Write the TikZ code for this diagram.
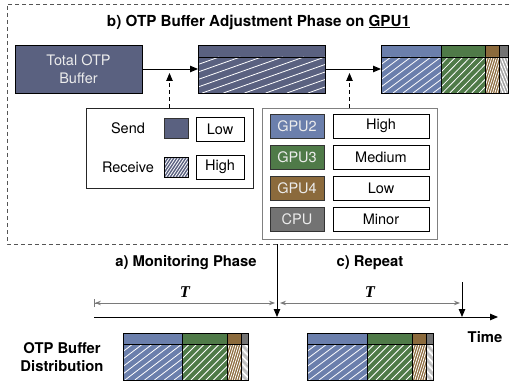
\documentclass[tikz,border=0pt]{standalone}
\usepackage{fontspec}
\setmainfont{TeX Gyre Heros}
\newfontfamily\serifbi{Liberation Serif}
\usetikzlibrary{arrows.meta}

\definecolor{bufdark}{HTML}{5A6180}
\definecolor{gputwo}{HTML}{6B7FAC}
\definecolor{gputhree}{HTML}{4F7A48}
\definecolor{gpufour}{HTML}{8B6A3C}
\definecolor{cpugray}{HTML}{737373}
\definecolor{framegray}{HTML}{555555}
\definecolor{dimgray}{HTML}{7A7A7A}
\definecolor{swtext}{HTML}{ECECEC}

% hatch density: lines per width, and horizontal run of one line as a share of the width
\def\hatchdiv{6}
\def\hatchrun{0.8}

% solid segment: name, colour, x0, y0, x1, y1
\newcommand\solidseg[6]{%
  \pgfmathsetmacro\segw{#5-#3}%
  \pgfmathsetmacro\segh{#6-#4}%
  \node[segbox, fill=#2, minimum width=\segw pt, minimum height=\segh pt]
    (#1) at ({(#3+#5)/2},{(#4+#6)/2}) {};
  \draw[segline] (#1.south west) rectangle (#1.north east);
}
% hatched segment: name, colour, x0, y0, x1, y1
\newcommand\hatchseg[6]{%
  \pgfmathsetmacro\segw{#5-#3}%
  \pgfmathsetmacro\segh{#6-#4}%
  \pgfmathsetmacro\hs{\segw/\hatchdiv}%
  \pgfmathsetmacro\hr{\hatchrun*\segw}%
  \node[segbox, fill=#2, minimum width=\segw pt, minimum height=\segh pt]
    (#1) at ({(#3+#5)/2},{(#4+#6)/2}) {};
  \begin{scope}
    \clip (#1.south west) rectangle (#1.north east);
    \foreach \k in {0,...,16} {
      \draw[hatchline] ({#3-\hr+\k*\hs},#6) -- ({#3+\k*\hs},#4);
    }
  \end{scope}
  \draw[segline] (#1.south west) rectangle (#1.north east);
}
% split buffer: prefix, four segment borders x0..x4, ytop, yband, ybottom
\newcommand\otpbuf[9]{%
  \solidseg{#1a}{gputwo}{#2}{#7}{#3}{#8}
  \solidseg{#1b}{gputhree}{#3}{#7}{#4}{#8}
  \solidseg{#1c}{gpufour}{#4}{#7}{#5}{#8}
  \solidseg{#1d}{cpugray}{#5}{#7}{#6}{#8}
  \hatchseg{#1e}{gputwo}{#2}{#8}{#3}{#9}
  \hatchseg{#1f}{gputhree}{#3}{#8}{#4}{#9}
  \hatchseg{#1g}{gpufour}{#4}{#8}{#5}{#9}
  \hatchseg{#1h}{cpugray}{#5}{#8}{#6}{#9}
}

\begin{document}
\begin{tikzpicture}[x=1pt,y=-1pt,
  every node/.style={font=\fontsize{14.5}{17.5}\selectfont},
  boldlbl/.style={font=\bfseries\fontsize{14.8}{17.5}\selectfont},
  segbox/.style={inner sep=0pt, outer sep=0pt, draw=none},
  segline/.style={line width=0.9pt, draw=black},
  hatchline/.style={draw=white, line width=0.8pt},
  flow/.style={line width=0.9pt, -{Triangle[length=8pt,width=6.5pt]}},
  hint/.style={line width=0.9pt, dash pattern=on 4pt off 3pt, -{Triangle[length=8pt,width=6.5pt]}},
  dimline/.style={draw=dimgray, line width=0.9pt},
  legframe/.style={draw=#1, line width=0.9pt, fill=white, inner sep=0pt},
  valbox/.style={draw=black, line width=0.8pt, fill=white, inner sep=0pt, minimum height=24pt},
  swatch/.style={draw=black!80, line width=0.8pt, fill=#1, inner sep=0pt, text=swtext,
                 minimum width=54pt, minimum height=24pt},
]
\useasboundingbox (0,0) rectangle (511,385);

% phase b frame
\draw[framegray, line width=0.9pt, dash pattern=on 4pt off 3pt]
  (516,4) -- (7,4) -- (7,244) -- (516,244);
\node[boldlbl, font=\bfseries\fontsize{15.2}{18}\selectfont] (title) at (258.5,22)
  {b) OTP Buffer Adjustment Phase on \underline{GPU1}};

% total buffer
\node[fill=bufdark, draw=black, line width=0.9pt, minimum width=127pt, minimum height=48pt,
      inner sep=0pt, text=swtext, align=center] (total) at (78.5,69) {Total OTP\\Buffer};

% send / receive split
\solidseg{midtop}{bufdark}{198}{45}{325}{57}
\hatchseg{midlow}{bufdark}{198}{57}{325}{93}

% per-device split
\otpbuf{rb}{381}{441}{485}{499}{508}{45}{57}{93}

\draw[flow] (total.east) -- (total.east -| midlow.west);
\draw[flow] (total.east -| midlow.east) -- (total.east -| rbe.west);

% legend: send / receive
\node[legframe=black!85, minimum width=167pt, minimum height=80pt] (legA) at (169.5,148) {};
\node (sendlbl) at (128,128) {Send};
\node[draw=black!80, line width=0.8pt, fill=bufdark, minimum width=24pt, minimum height=20pt, inner sep=0pt]
  (sendsw) at (176,128) {};
\node[valbox, minimum width=48pt] (sendval) at (220,129.5) {Low};
\node (recvlbl) at (128,167) {Receive};
\begingroup
\def\hatchdiv{8}\def\hatchrun{0.55}
\hatchseg{recvsw}{bufdark}{164}{157}{188}{177}
\endgroup
\node[valbox, minimum width=48pt] (recvval) at (220,167) {High};

% legend: peer devices
\node[legframe=black!50, minimum width=175pt, minimum height=131pt] (legB) at (349.5,173.5) {};
\node[swatch=gputwo]   (swA) at (297,126) {GPU2};
\node[swatch=gputhree] (swB) at (297,157) {GPU3};
\node[swatch=gpufour]  (swC) at (297,188) {GPU4};
\node[swatch=cpugray]  (swD) at (297,219) {CPU};
\node[valbox, minimum width=96pt] (valA) at (381,126) {High};
\node[valbox, minimum width=96pt] (valB) at (381,157) {Medium};
\node[valbox, minimum width=96pt] (valC) at (381,188) {Low};
\node[valbox, minimum width=96pt] (valD) at (381,219) {Minor};

\coordinate (tipA) at (169.5,73);
\coordinate (tipB) at (349.5,73);
\draw[hint] (legA.north) -- (tipA);
\draw[hint] (legB.north) -- (tipB);

% timeline
\coordinate (tl0) at (94,317);
\coordinate (tl1) at (498,317);
\coordinate (drop) at (277,244);
\coordinate (rep) at (462,282);
\draw[flow] (tl0) -- (tl1);
\draw[flow] (drop) -- (drop |- tl0);
\draw[flow] (rep) -- (rep |- tl0);

\node[boldlbl] (phaseA) at (186,263) {a) Monitoring Phase};
\node[boldlbl] (phaseC) at (370,263) {c) Repeat};
\node[font=\serifbi\bfseries\itshape\fontsize{16.5}{18}\selectfont] (perA) at (185,292) {T};
\node[font=\serifbi\bfseries\itshape\fontsize{16.5}{18}\selectfont] (perC) at (370,292) {T};

\coordinate (dA0) at (94,303);
\coordinate (dA1) at (275,303);
\coordinate (dB0) at (280,303);
\coordinate (dB1) at (460,303);
\draw[dimline, {Bar[width=8pt]Stealth[length=6pt,width=4.5pt]}-{Stealth[length=6pt,width=4.5pt]}] (dA0) -- (dA1);
\draw[dimline, {Stealth[length=6pt,width=4.5pt]}-{Stealth[length=6pt,width=4.5pt]}] (dB0) -- (dB1);

\node[boldlbl] (timelbl) at (485,337) {Time};
\node[boldlbl, align=center] (distlbl) at (62,357) {OTP Buffer\\Distribution};

% buffer distribution snapshots
\otpbuf{sa}{123}{182}{227}{241}{248}{333}{344}{380}
\otpbuf{sb}{307}{367}{412}{426}{433}{333}{344}{380}
\end{tikzpicture}
\end{document}
